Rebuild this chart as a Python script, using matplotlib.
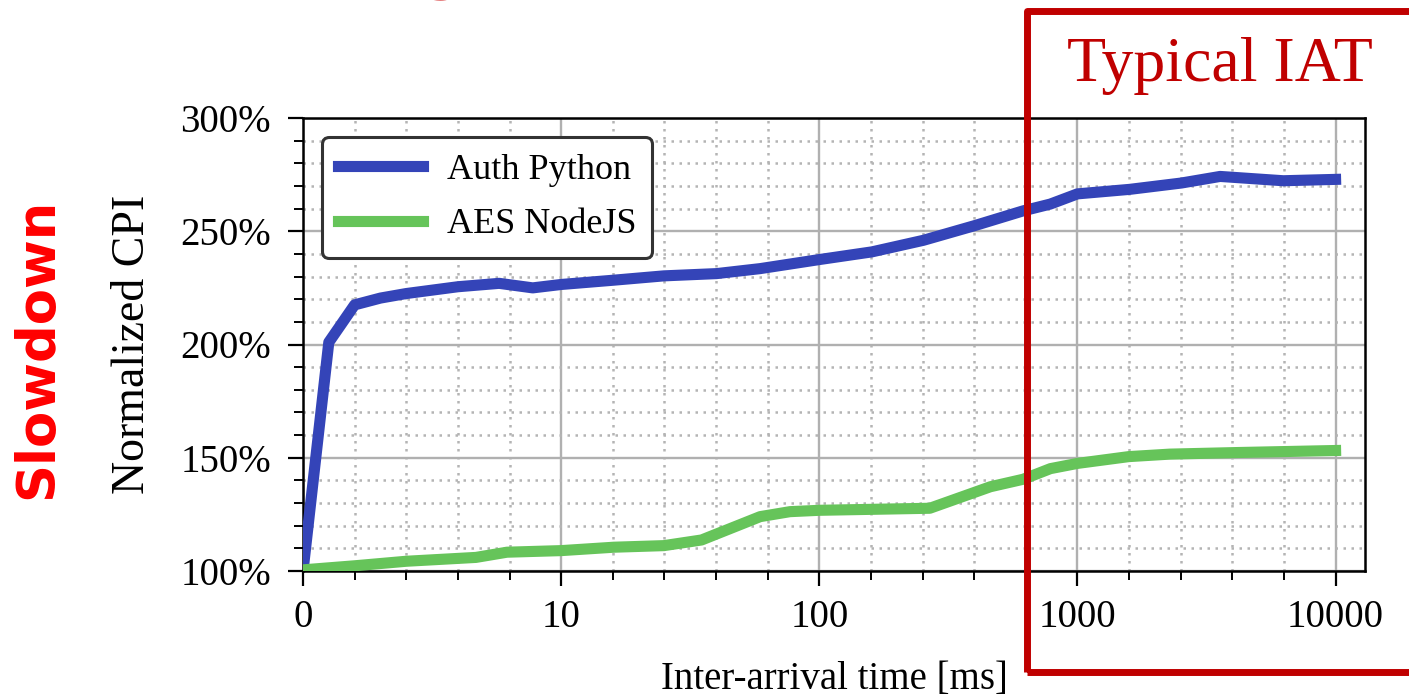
import numpy as np
import matplotlib
matplotlib.use("Agg")
import matplotlib.pyplot as plt
from matplotlib.patches import Rectangle
from matplotlib.ticker import FixedLocator, PercentFormatter, MultipleLocator

plt.rcParams["font.family"] = ["Liberation Serif", "DejaVu Serif"]

# Inter-arrival time [ms] and normalized CPI [%]
auth_x = [0, 1, 2, 3, 4, 5, 6, 7.6, 8.9, 10, 16, 25, 40, 59, 100, 160, 253,
          403, 616, 785, 1000, 1595, 2530, 3570, 6270, 10000]
auth_y = [100, 201, 217.5, 220.5, 222.5, 224, 225.5, 227, 225, 226.5, 228.4,
          230.3, 231.3, 233.5, 237.5, 240.9, 246, 252.6, 259, 262, 266.5,
          268.5, 271.3, 274.2, 272.3, 272.9]

aes_x = [0, 2, 4, 6.7, 7.9, 10, 16, 25, 35, 59, 77, 100, 268, 460, 616, 786,
         1000, 1580, 2280, 4150, 10000]
aes_y = [100.5, 102.3, 104.3, 106, 108.3, 109, 110.5, 111.2, 113.7, 124,
         126.2, 126.8, 127.7, 137.2, 140.5, 145.2, 147.5, 150.5, 151.6,
         152.3, 153.2]

xticks = [0, 10, 100, 1000, 10000]
xtick_labels = ["0", "10", "100", "1000", "10000"]

fig = plt.figure(figsize=(14.09, 7), dpi=100)
ax = fig.add_axes([303 / 1409, 1 - 571 / 700, 1062 / 1409, 453 / 700])

ax.plot(auth_x, auth_y, color="#3444b8", lw=8, label="Auth Python",
        solid_joinstyle="round", zorder=3)
ax.plot(aes_x, aes_y, color="#66c45a", lw=8, label="AES NodeJS",
        solid_joinstyle="round", zorder=3)

ax.set_xscale("symlog", linthresh=10, linscale=0.9)
ax.set_xlim(0, 13000)
ax.set_ylim(100, 300)

ax.set_xticks(xticks, xtick_labels)
minor = [2, 4, 6, 8] + [10 ** (d + k / 5) for d in range(1, 4) for k in range(1, 5)]
ax.xaxis.set_minor_locator(FixedLocator(minor))
ax.yaxis.set_major_locator(MultipleLocator(50))
ax.yaxis.set_minor_locator(MultipleLocator(10))
ax.yaxis.set_major_formatter(PercentFormatter(decimals=0))

ax.tick_params(axis="both", which="major", direction="out", length=11,
               width=1.6, labelsize=28, colors="black")
ax.tick_params(axis="both", which="minor", direction="out", length=6.5,
               width=1.4)
ax.tick_params(axis="x", which="major", pad=9)
ax.tick_params(axis="y", which="major", pad=12)

ax.grid(which="major", color="#b0b0b0", lw=1.7, ls="-", zorder=0)
ax.grid(which="minor", color="#b4b4b4", lw=1.8, ls=(0, (1, 2.2)), zorder=0)
ax.set_axisbelow(True)
for s in ax.spines.values():
    s.set_linewidth(1.8)
    s.set_color("black")

ax.set_xlabel("Inter-arrival time [ms]", fontsize=28, labelpad=18)
ax.set_ylabel("Normalized CPI", fontsize=33, labelpad=19)

leg = ax.legend(loc="upper left", bbox_to_anchor=(0.018, 0.958),
                borderaxespad=0, fontsize=26, handlelength=2.35,
                handletextpad=0.65, borderpad=0.45, labelspacing=0.6,
                fancybox=True, framealpha=1)
leg.get_frame().set_edgecolor("#333333")
leg.get_frame().set_linewidth(2.2)

# annotations around the plot
fig.text(37 / 1409, 1 - 348 / 700, "Slowdown", rotation=90, ha="center",
         va="center", color="#ff0000", fontsize=38, fontweight="bold",
         family="DejaVu Sans")
fig.patches.append(Rectangle((1027 / 1409, 1 - 672 / 700), 0.4, 661 / 700,
                             transform=fig.transFigure, fill=False,
                             edgecolor="#c00000", lw=5, joinstyle="round",
                             zorder=5))
fig.text(1220 / 1409, 1 - 81 / 700, "Typical IAT", ha="center",
         va="baseline", color="#c00000", fontsize=46)
fig.text(444 / 1409, 1 + 13 / 700, "g", ha="center", va="baseline",
         color="#cc0000", fontsize=50, fontweight="bold", family="DejaVu Sans")

fig.savefig("out.png", dpi=100)
